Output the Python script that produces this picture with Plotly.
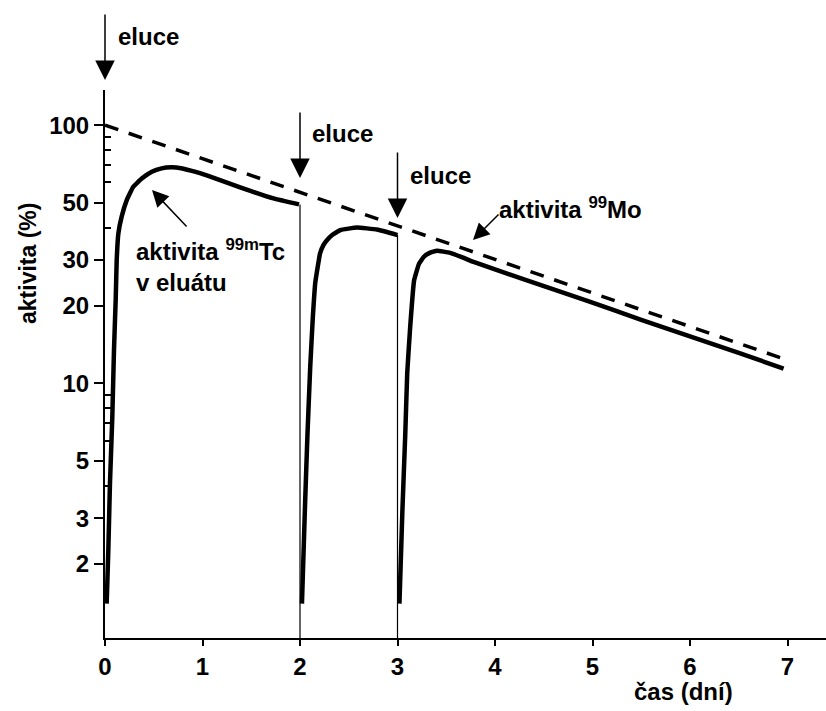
import plotly.graph_objects as go

# Tc-99m activity in eluate after each elution
tc1_x = [0.017, 0.034, 0.051, 0.075, 0.092, 0.11, 0.12, 0.137, 0.171, 0.223, 0.29, 0.377, 0.48, 0.58, 0.68, 0.78, 0.88, 1.044, 1.386, 1.728, 1.99]
tc1_y = [1.40, 2.25, 4.1, 7.4, 13.4, 21.3, 30.0, 38.0, 44.2, 51.2, 57.7, 62.1, 66.0, 68.0, 68.6, 68.1, 66.6, 63.9, 57.4, 52.0, 49.3]

tc2_x = [2.02, 2.053, 2.077, 2.105, 2.132, 2.156, 2.19, 2.205, 2.24, 2.276, 2.33, 2.413, 2.584, 2.79, 3.0]
tc2_y = [1.40, 3.5, 6.4, 11.6, 18.1, 24.4, 29.5, 31.8, 34.3, 35.8, 37.5, 39.2, 40.1, 39.4, 37.5]

tc3_x = [3.02, 3.05, 3.08, 3.10, 3.13, 3.17, 3.22, 3.27, 3.33, 3.405, 3.54, 3.66, 3.78, 4.29, 4.94, 5.5, 6.0, 6.5, 6.96]
tc3_y = [1.40, 3.2, 6.4, 11.0, 16.5, 25.0, 29.0, 30.9, 32.0, 32.6, 32.0, 30.8, 29.5, 25.3, 20.9, 17.6, 15.2, 13.1, 11.4]

# Mo-99 activity (dashed)
mo_x = [0.0, 6.97]
mo_y = [100.0, 12.4]

# thin vertical lines at elution times
elu_x = [2.0, 3.0]
elu_top = [49.3, 37.5]
elu_bottom = 1.0

y_ticks = [2, 3, 5, 10, 20, 30, 50, 100]
y_minor = [4, 6, 7, 8, 9, 40, 60, 70, 80, 90]
x_ticks = [0, 1, 2, 3, 4, 5, 6, 7]

FONT = "Liberation Sans"
fig = go.Figure()

for xs, ys in [(tc1_x, tc1_y), (tc2_x, tc2_y), (tc3_x, tc3_y)]:
    fig.add_trace(go.Scatter(x=xs, y=ys, mode="lines", line=dict(color="black", width=4.5, shape="spline", smoothing=0.3),
                             showlegend=False, hoverinfo="skip"))

for ex, et in zip(elu_x, elu_top):
    fig.add_trace(go.Scatter(x=[ex, ex], y=[et, elu_bottom], mode="lines", line=dict(color="black", width=1.2),
                             showlegend=False, hoverinfo="skip"))

fig.add_trace(go.Scatter(x=mo_x, y=mo_y, mode="lines", line=dict(color="black", width=3.5, dash="14px,11px"),
                         showlegend=False, hoverinfo="skip"))

W, H = 826, 711
L, R, T, B = 105, 0, 90, 73
pw, ph = W - L - R, H - T - B
PX_PER_DAY = 97.5

def px(xp):
    return (xp - L) / pw

def py(yp):
    return (H - B - yp) / ph

tf = dict(family=FONT, size=24, color="black", weight="bold")

ann = []
# elution arrows
for xd, tip in [(0, 80), (2, 178), (3, 218)]:
    ann.append(dict(x=xd, xref="x", y=py(tip), yref="paper", text="", showarrow=True,
                    ax=0, ay=-67, arrowhead=2, arrowsize=2.6, arrowwidth=1.5, arrowcolor="black"))
for xl, yc in [(116, 37), (310, 133), (408, 175)]:
    ann.append(dict(x=px(xl), y=py(yc), xref="paper", yref="paper", text="eluce", showarrow=False,
                    xanchor="left", yanchor="middle", font=tf))

# Mo label
ann.append(dict(x=px(497), y=py(208), xref="paper", yref="paper", text="aktivita <sup>99</sup>Mo",
                showarrow=False, xanchor="left", yanchor="middle", font=tf))
ann.append(dict(x=px(473), y=py(240), xref="paper", yref="paper", text="", showarrow=True,
                ax=27, ay=-27, arrowhead=2, arrowsize=2.2, arrowwidth=1.5, arrowcolor="black"))

# Tc label
ann.append(dict(x=px(134), y=py(265), xref="paper", yref="paper",
                text="aktivita <sup>99m</sup>Tc<br>v eluátu", showarrow=False, xanchor="left",
                yanchor="middle", align="left", font=tf))
ann.append(dict(x=px(152), y=py(190), xref="paper", yref="paper", text="", showarrow=True,
                ax=36, ay=38, arrowhead=2, arrowsize=2.2, arrowwidth=1.5, arrowcolor="black"))

# axis titles
ann.append(dict(x=px(28), y=py(264), xref="paper", yref="paper", text="aktivita (%)", textangle=-90,
                showarrow=False, xanchor="center", yanchor="middle",
                font=dict(family=FONT, size=23, color="black", weight="bold")))
ann.append(dict(x=px(683), y=py(691), xref="paper", yref="paper", text="čas (dní)",
                showarrow=False, xanchor="center", yanchor="middle",
                font=dict(family=FONT, size=24, color="black", weight="bold")))

fig.update_layout(
    width=W, height=H,
    margin=dict(l=L, r=R, t=T, b=B, pad=0),
    paper_bgcolor="white", plot_bgcolor="white",
    annotations=ann,
    xaxis=dict(range=[0, (W - L) / PX_PER_DAY], tickvals=x_ticks, ticktext=[str(v) for v in x_ticks],
               showgrid=False, zeroline=False, showline=True, linecolor="black", linewidth=2,
               ticks="outside", ticklen=6, tickwidth=2, tickcolor="black", tickfont=tf),
    yaxis=dict(type="log", range=[0.013, 2.136], tickvals=y_ticks, ticktext=[str(v) for v in y_ticks],
               showgrid=False, zeroline=False, showline=True, linecolor="black", linewidth=2,
               ticks="outside", ticklen=9, tickwidth=2, tickcolor="black", tickfont=tf,
               minor=dict(tickvals=y_minor, ticks="inside", ticklen=6, tickwidth=1.5, tickcolor="black")),
)

fig.write_html("out.html", config={"displayModeBar": False},
               post_script="document.body.style.margin='0px';document.body.style.overflow='hidden';")
